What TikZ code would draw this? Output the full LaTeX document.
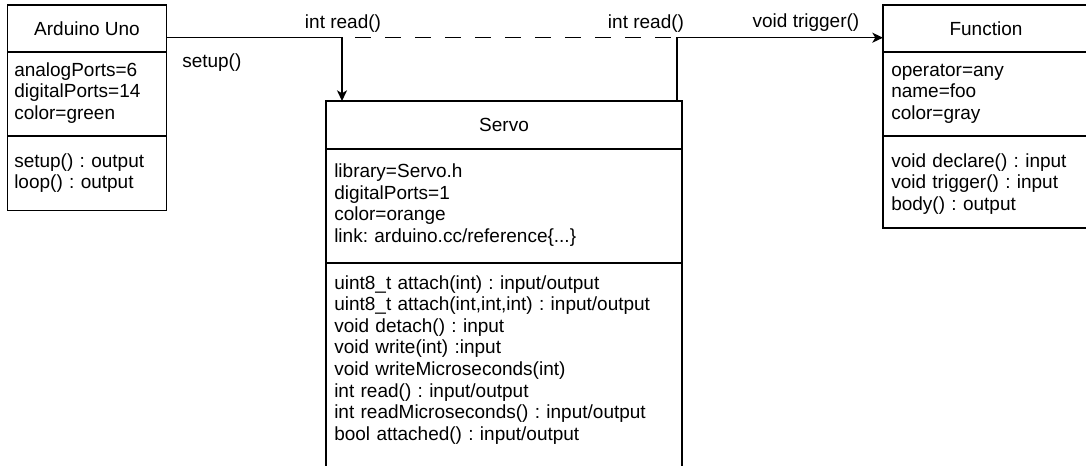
\documentclass[tikz,border=0pt]{standalone}
\usepackage{fontspec}
\setmainfont{Liberation Sans}
\usetikzlibrary{arrows.meta,calc}
\frenchspacing
\begin{document}
\begin{tikzpicture}[x=0.75pt,y=-0.75pt,
  umlbox/.style={draw=black,line width=1.125pt,fill=white,rectangle,inner sep=0pt,outer sep=0pt,anchor=north west},
  divider/.style={line width=1.125pt},
  titletext/.style={inner sep=0pt,font=\fontsize{14.25pt}{16.2pt}\selectfont\frenchspacing},
  bodytext/.style={inner sep=0pt,anchor=base west,align=left,text width=300pt,font=\fontsize{14.25pt}{16.2pt}\selectfont\frenchspacing},
  lbl/.style={inner sep=0pt,anchor=base,font=\fontsize{14.25pt}{16.2pt}\selectfont\frenchspacing},
  conn/.style={line width=1.125pt,-{Stealth[length=8pt,width=7.5pt,inset=2.2pt]}},
  dashline/.style={line width=1.125pt,dash pattern=on 12pt off 10.5pt,dash phase=12.75pt}
]
\useasboundingbox (0,0) rectangle (1086,465);
\fill[white] (0,0) rectangle (1086,465);
\clip (0,0) rectangle (1086,465);

% Arduino Uno
\node[umlbox,minimum width=119.25pt,minimum height=154.125pt] (ard) at (7.5,5) {};
\draw[divider] ($(ard.north west)+(0,47)$) -- ($(ard.north east)+(0,47)$);
\draw[divider] ($(ard.north west)+(0,131)$) -- ($(ard.north east)+(0,131)$);
\node[titletext] (ardT) at (87,28.5) {Arduino Uno};
\node[bodytext] (ardA) at ($(ard.north west)+(6.5,71)$) {analogPorts=6\\digitalPorts=14\\color=green};
\node[bodytext] (ardM) at ($(ard.north west)+(6.5,162)$) {setup() : output\\loop() : output};

% Servo
\node[umlbox,minimum width=267pt,minimum height=300pt] (servo) at (326,101) {};
\draw[divider] ($(servo.north west)+(0,48)$) -- ($(servo.north east)+(0,48)$);
\draw[divider] ($(servo.north west)+(0,162)$) -- ($(servo.north east)+(0,162)$);
\node[titletext] (servoT) at (504,125) {Servo};
\node[bodytext] (servoA) at ($(servo.north west)+(8,76.5)$) {library=Servo.h\\digitalPorts=1\\color=orange\\link: arduino.cc/reference\{...\}};
\node[bodytext] (servoM) at ($(servo.north west)+(8,188)$) {uint8\_t attach(int) : input/output\\uint8\_t attach(int,int,int) : input/output\\void detach() : input\\void write(int) :input\\void writeMicroseconds(int)\\int read() : input/output\\int readMicroseconds() : input/output\\bool attached() : input/output};

% Function
\node[umlbox,minimum width=154.5pt,minimum height=167.25pt] (fn) at (883,5) {};
\draw[divider] ($(fn.north west)+(0,47)$) -- ($(fn.north east)+(0,47)$);
\draw[divider] ($(fn.north west)+(0,131)$) -- ($(fn.north east)+(0,131)$);
\node[titletext] (fnT) at (986,28.5) {Function};
\node[bodytext] (fnA) at ($(fn.north west)+(8,71)$) {operator=any\\name=foo\\color=gray};
\node[bodytext] (fnM) at ($(fn.north west)+(8,162)$) {void declare() : input\\void trigger() : input\\body() : output};

% connectors
\coordinate (rowy) at (0,37.7);
\coordinate (sIn) at ($(servo.north west)+(16,0)$);
\coordinate (sOut) at ($(servo.north east)+(-5,0)$);
\draw[conn] (ard.east |- rowy) -| (sIn);
\draw[dashline] (sIn |- rowy) -- (sOut |- rowy);
\draw[conn] (sOut) |- (fn.west |- rowy);

% labels
\node[lbl,anchor=base west] (lSetup) at (182,67) {setup()};
\node[lbl] (lRead1) at (343,28) {int read()};
\node[lbl] (lRead2) at (646,28) {int read()};
\node[lbl] (lTrig) at (806,27) {void trigger()};
\end{tikzpicture}
\end{document}
